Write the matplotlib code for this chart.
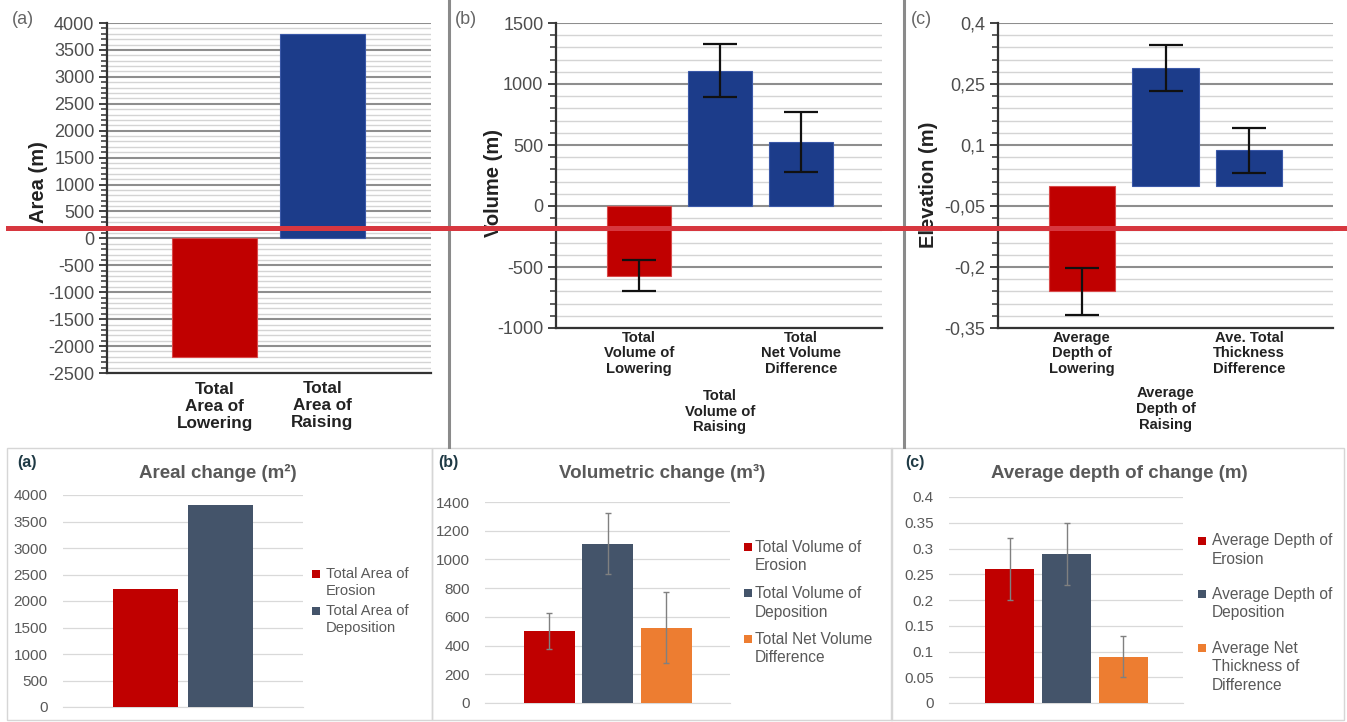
import matplotlib.pyplot as plt
import numpy as np
from matplotlib.ticker import FuncFormatter
from matplotlib.lines import Line2D
from matplotlib.patches import Rectangle

plt.rcParams['font.family'] = ['Liberation Sans', 'DejaVu Sans']

# ---- data, top row (original figure) ----
top_area_labels = ['Total\nArea of\nLowering', 'Total\nArea of\nRaising']
top_area_vals = [-2200, 3800]

top_vol_labels = ['Total\nVolume of\nLowering', 'Total\nVolume of\nRaising', 'Total\nNet Volume\nDifference']
top_vol_vals = [-570, 1110, 525]
top_vol_err = [128, 218, 245]

top_depth_labels = ['Average\nDepth of\nLowering', 'Average\nDepth of\nRaising', 'Ave. Total\nThickness\nDifference']
top_depth_vals = [-0.26, 0.29, 0.087]
top_depth_err = [0.057, 0.057, 0.055]
top_depth_ticks = [-0.35, -0.2, -0.05, 0.1, 0.25, 0.4]

# ---- data, bottom row (redrawn figure) ----
area_labels = ['Total Area of\nErosion', 'Total Area of\nDeposition']
area_vals = [2220, 3810]

vol_labels = ['Total Volume of\nErosion', 'Total Volume of\nDeposition', 'Total Net Volume\nDifference']
vol_vals = [500, 1110, 525]
vol_err = [125, 210, 245]

depth_labels = ['Average Depth of\nErosion', 'Average Depth of\nDeposition', 'Average Net\nThickness of\nDifference']
depth_vals = [0.26, 0.29, 0.09]
depth_err = [0.06, 0.06, 0.04]

W, H = 1347, 722


def px(l, t, r, b):
    return [l / W, 1 - b / H, (r - l) / W, (b - t) / H]


fig = plt.figure(figsize=(W / 100, H / 100), dpi=100)

RED_TOP = '#c00000'
BLUE_TOP = '#1c3c8a'
comma = FuncFormatter(lambda v, p: f'{round(v, 3):g}'.replace('.', ','))


def top_panel(rect, labels, vals, err, xlim, ylim, majors, minors, ylabel, lab_xy, pads, fs_lab):
    ax = fig.add_axes(px(*rect))
    x = np.arange(len(vals))
    cols = [RED_TOP if v < 0 else BLUE_TOP for v in vals]
    edges = ['#d84a4a' if v < 0 else '#3a58a8' for v in vals]
    ax.bar(x, vals, width=0.79, color=cols, edgecolor=edges, linewidth=0.8, zorder=3)
    if err is not None:
        ax.errorbar(x, vals, yerr=err, fmt='none', ecolor='#111111', elinewidth=1.6,
                    capsize=12, capthick=1.6, zorder=4)
    ax.set_xlim(*xlim)
    ax.set_ylim(*ylim)
    ax.set_yticks(majors)
    ax.set_yticks(minors, minor=True)
    ax.yaxis.set_major_formatter(comma)
    ax.grid(axis='y', which='major', color='#8e8e8e', linewidth=1.5, zorder=0)
    ax.grid(axis='y', which='minor', color='#d4d4d4', linewidth=1.0, zorder=0)
    for s in ['top', 'right']:
        ax.spines[s].set_visible(False)
    for s in ['left', 'bottom']:
        ax.spines[s].set_color('#333333')
        ax.spines[s].set_linewidth(1.6)
    ax.tick_params(axis='y', which='major', length=6, width=1.3, color='#333333',
                   labelsize=13, labelcolor='#4d4d4d', pad=3)
    ax.tick_params(axis='y', which='minor', length=4, width=1.1, color='#333333')
    ax.set_xticks(x, labels, fontweight='bold', fontsize=fs_lab, color='#222222', linespacing=1.15)
    ax.tick_params(axis='x', length=0)
    for t, p in zip(ax.xaxis.get_major_ticks(), pads):
        t.set_pad(p)
    ax.set_ylabel(ylabel, fontsize=14.5, fontweight='bold', color='#222222')
    ax.yaxis.set_label_coords(*lab_xy)
    return ax


top_panel((107, 23, 431, 373), top_area_labels, top_area_vals, None, (-1.0, 2.01), (-2500, 4000),
          np.arange(-2500, 4001, 500), np.arange(-2500, 4001, 100), 'Area (m)', (-0.182, 0.546),
          [6.5, 6.0], 12.3)
top_panel((556, 23, 882, 328), top_vol_labels, top_vol_vals, top_vol_err, (-1.02, 3.0), (-1000, 1500),
          np.arange(-1000, 1501, 500), np.arange(-1000, 1501, 100), 'Volume (m)', (-0.163, 0.475),
          [2, 44, 2], 10.6)
top_panel((998, 23, 1333, 328), top_depth_labels, top_depth_vals, top_depth_err, (-1.0, 3.0), (-0.35, 0.4),
          top_depth_ticks, np.arange(-0.35, 0.401, 0.03), 'Elevation (m)', (-0.179, 0.469),
          [2, 42, 2], 10.6)

for lab, xx in [('(a)', 12), ('(b)', 455), ('(c)', 911)]:
    fig.text(xx / W, 1 - 20 / H, lab, fontsize=13, color='#666666', ha='left', va='center')

# separators of the top row
for xx in [449, 904]:
    fig.add_artist(Line2D([xx / W, xx / W], [1, 1 - 447 / H], color='#8a8a8a', linewidth=2.2))

# ---- bottom row ----
C3 = ['#c00000', '#44546a', '#ed7d31']


def excel_legend(labels, colors, mx, tx, y_first, line_h, fs, sq=8):
    # Excel style: square marker sits on the first line of each entry
    for lab, c, y0 in zip(labels, colors, y_first):
        fig.add_artist(Rectangle((mx / W, 1 - (y0 + sq / 2) / H), sq / W, sq / H,
                                 transform=fig.transFigure, facecolor=c, edgecolor='none'))
        for j, line in enumerate(lab.split('\n')):
            fig.text(tx / W, 1 - (y0 + j * line_h) / H, line, fontsize=fs, color='#595959',
                     ha='left', va='center')


def bottom_panel(rect, boxr, vals, err, xlim, ylim, step, title, title_xy, panel_xy, panel):
    fig.add_artist(Rectangle((boxr[0] / W, 1 - boxr[3] / H), (boxr[2] - boxr[0]) / W,
                             (boxr[3] - boxr[1]) / H, transform=fig.transFigure,
                             fill=False, edgecolor='#d6d6d6', linewidth=1.0))
    ax = fig.add_axes(px(*rect))
    x = np.arange(len(vals))
    ax.bar(x, vals, width=0.87, color=C3[:len(vals)], zorder=3)
    if err is not None:
        ax.errorbar(x, vals, yerr=err, fmt='none', ecolor='#808080', elinewidth=1.0,
                    capsize=2.5, capthick=1.0, zorder=4)
    ax.set_xlim(*xlim)
    ax.set_ylim(*ylim)
    ax.set_yticks(np.arange(ylim[0], ylim[1] + step / 2, step))
    ax.yaxis.set_major_formatter(FuncFormatter(lambda v, p: f'{round(v, 3):g}'))
    ax.grid(axis='y', color='#d9d9d9', linewidth=0.9, zorder=0)
    for s in ['top', 'right', 'left']:
        ax.spines[s].set_visible(False)
    ax.spines['bottom'].set_color('#d9d9d9')
    ax.set_xticks([])
    ax.tick_params(axis='y', length=0, labelsize=11, labelcolor='#595959', pad=11)
    fig.text(title_xy[0] / W, 1 - title_xy[1] / H, title, fontsize=13.5, fontweight='bold',
             color='#595959', ha='center', va='center')
    fig.text(panel_xy[0] / W, 1 - panel_xy[1] / H, panel, fontsize=11.5, fontweight='bold',
             color='#1f3a45', ha='left', va='center')
    return ax


bottom_panel((63, 495, 303, 707), (7, 448, 432, 720), area_vals, None, (-1.1, 2.1), (0, 4000), 500,
             'Areal change (m²)', (218, 473), (17, 463), '(a)')
excel_legend(area_labels, C3[:2], 312, 326, [574, 611], 17, 10.6, sq=8)

bottom_panel((485, 502, 730, 703), (432, 448, 892, 720), vol_vals, vol_err, (-1.1, 3.09), (0, 1400), 200,
             'Volumetric change (m³)', (662, 473), (438, 462), '(b)')
excel_legend(vol_labels, C3, 744, 755, [547, 593, 639], 19, 11.2, sq=8)

bottom_panel((949, 497, 1183, 703), (891, 448, 1344, 720), depth_vals, depth_err, (-1.07, 3.05), (0, 0.4), 0.05,
             'Average depth of change (m)', (1119, 473), (905, 462), '(c)')
excel_legend(depth_labels, C3, 1198, 1212, [541, 594, 648], 18.5, 11.2, sq=8)

# red guide line across the top row
fig.add_artist(Line2D([8 / W, 1], [1 - 228 / H, 1 - 228 / H], color='#d7373f', linewidth=3.6, zorder=10))

fig.savefig('out.png', dpi=100, facecolor='white')
